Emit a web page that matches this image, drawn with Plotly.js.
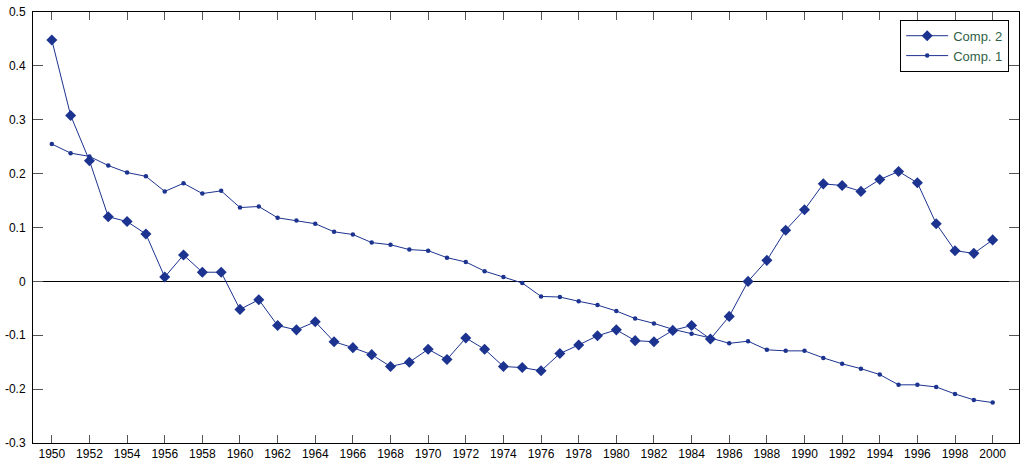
<!DOCTYPE html>
<html>
<head>
<meta charset="utf-8">
<script src="https://cdn.plot.ly/plotly-3.0.1.min.js"></script>
<style>html,body{margin:0;padding:0;background:#fff;}#chart{width:1021px;height:463px;}</style>
</head>
<body>
<div id="chart"></div>
<script>
const years = [];
for (let y = 1950; y <= 2000; y++) years.push(y);

const comp2 = [0.448, 0.308, 0.224, 0.120, 0.111, 0.088, 0.008, 0.049, 0.017, 0.017,
  -0.052, -0.034, -0.082, -0.090, -0.075, -0.112, -0.123, -0.136, -0.158, -0.150,
  -0.126, -0.145, -0.105, -0.126, -0.158, -0.160, -0.166, -0.134, -0.118, -0.101,
  -0.090, -0.110, -0.112, -0.091, -0.082, -0.107, -0.065, 0.000, 0.039, 0.095,
  0.133, 0.181, 0.178, 0.167, 0.189, 0.204, 0.183, 0.107, 0.057, 0.052, 0.077];

const comp1 = [0.255, 0.238, 0.232, 0.215, 0.202, 0.195, 0.167, 0.182, 0.163, 0.168,
  0.137, 0.139, 0.118, 0.113, 0.107, 0.092, 0.087, 0.072, 0.068, 0.059,
  0.057, 0.044, 0.036, 0.019, 0.008, -0.003, -0.028, -0.029, -0.037, -0.044,
  -0.055, -0.069, -0.078, -0.089, -0.097, -0.105, -0.115, -0.111, -0.127, -0.129,
  -0.129, -0.142, -0.153, -0.162, -0.173, -0.192, -0.192, -0.196, -0.209, -0.220, -0.225];

const xTicks = [];
for (let y = 1950; y <= 2000; y += 2) xTicks.push(y);
const yTicks = [-0.3, -0.2, -0.1, 0, 0.1, 0.2, 0.3, 0.4, 0.5];
const yTickText = ['-0.3', '-0.2', '-0.1', '0', '0.1', '0.2', '0.3', '0.4', '0.5'];

const blue = '#1c3390';

const data = [
  {x: years, y: comp2, name: 'Comp. 2', type: 'scatter', mode: 'lines+markers',
   line: {color: blue, width: 1}, marker: {symbol: 'diamond', size: 8.5, color: blue}},
  {x: years, y: comp1, name: 'Comp. 1', type: 'scatter', mode: 'lines+markers',
   line: {color: blue, width: 1}, marker: {symbol: 'circle', size: 4.5, color: blue}}
];

const layout = {
  width: 1021, height: 463,
  margin: {l: 33, r: 2, t: 12, b: 20, pad: 0},
  paper_bgcolor: '#fff', plot_bgcolor: '#fff',
  font: {family: 'Liberation Sans, Arial, sans-serif', size: 12, color: '#000'},
  showlegend: true,
  legend: {x: 0.8795, y: 0.982, xanchor: 'left', yanchor: 'top',
    bordercolor: '#000', borderwidth: 1, bgcolor: '#fff',
    font: {family: 'Liberation Sans, Arial, sans-serif', size: 13, color: '#2f5f45'},
    itemwidth: 42, tracegroupgap: 0},
  xaxis: {range: [1949, 2001.4], tickmode: 'array', tickvals: xTicks,
    ticktext: xTicks.map(String), ticks: 'inside', ticklen: 8, tickcolor: '#555',
    showline: true, linecolor: '#000', linewidth: 1, mirror: 'allticks',
    showgrid: false, zeroline: false, tickfont: {size: 12}},
  yaxis: {range: [-0.3, 0.5], tickmode: 'array', tickvals: yTicks, ticktext: yTickText,
    ticks: 'inside', ticklen: 10, tickcolor: '#555',
    showline: true, linecolor: '#000', linewidth: 1, mirror: 'allticks',
    showgrid: false, zeroline: true, zerolinecolor: '#000', zerolinewidth: 1,
    tickfont: {size: 12}, ticklabelstandoff: 4}
};

Plotly.newPlot('chart', data, layout, {staticPlot: true, displayModeBar: false});
</script>
</body>
</html>
